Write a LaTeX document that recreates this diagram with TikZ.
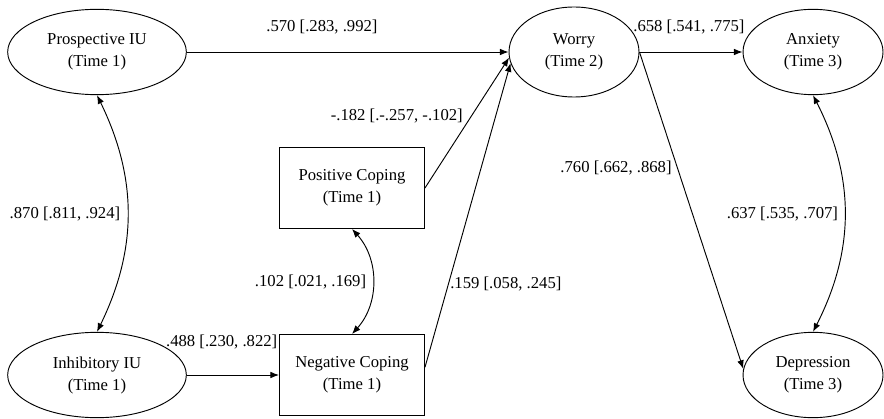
\documentclass[tikz,border=0pt]{standalone}
\usepackage{fontspec}
\setmainfont{Liberation Serif}
\usepackage{tikz}
\usetikzlibrary{arrows.meta,shapes.geometric,positioning}

\begin{document}
\begin{tikzpicture}[>={Latex[length=6.5pt,width=5pt]},line width=0.7pt,
    latent/.style={ellipse,draw,align=center,inner sep=0pt,minimum width=134pt,minimum height=64pt},
    coping/.style={rectangle,draw,align=center,minimum width=108.75pt,minimum height=60.75pt},
    est/.style={inner sep=1pt,font=\fontsize{12.5}{14}\selectfont},
    every node/.append style={font=\fontsize{12.5}{16.5}\selectfont}]
  \useasboundingbox (0,0) rectangle (663pt,313.5pt);

  \node[latent] (pros) at (72.75pt,274.5pt) {Prospective IU\\(Time 1)};
  \node[latent,minimum width=97.5pt,minimum height=67.5pt] (worry) [right of=pros,node distance=357.75pt] {Worry\\(Time 2)};
  \node[latent,minimum width=105pt] (anx) [right of=worry,node distance=179.25pt] {Anxiety\\(Time 3)};
  \node[latent] (inh) [below of=pros,node distance=242.25pt] {Inhibitory IU\\(Time 1)};
  \node[coping] (neg) [right of=inh,node distance=191.25pt] {Negative Coping\\(Time 1)};
  \node[coping] (pos) [above of=neg,node distance=140.25pt] {Positive Coping\\(Time 1)};
  \node[latent,minimum width=105pt] (dep) [below of=anx,node distance=242.25pt] {Depression\\(Time 3)};

  \path[->] (pros) edge node[est,pos=0.42,yshift=18.75pt] {.570 [.283, .992]} (worry)
        (worry) edge node[est,pos=0.48,yshift=18.75pt] {.658 [.541, .775]} (anx)
        (pos.east) edge node[est,pos=0.55,anchor=east,xshift=-5pt] {-.182 [.-.257, -.102]} (worry.185)
        (neg.6) edge node[est,pos=0.275,anchor=west] {.159 [.058, .245]} (worry.190)
        (worry.east) edge node[est,pos=0.365,anchor=east,xshift=-3pt] {.760 [.662, .868]} (dep.175)
        (inh) edge node[est,pos=1,anchor=east,yshift=24.75pt] {.488 [.230, .822]} (neg);

  \path (pros.south) edge[<->,bend left=26] node[est,anchor=east,xshift=-4pt] {.870 [.811, .924]} (inh.north)
        (pos.south) edge[<->,bend left=42] node[est,anchor=east,xshift=-3.5pt] {.102 [.021, .169]} (neg.north)
        (anx.south) edge[<->,bend left=27] node[est,anchor=east,xshift=-3.5pt] {.637 [.535, .707]} (dep.north);
\end{tikzpicture}
\end{document}
